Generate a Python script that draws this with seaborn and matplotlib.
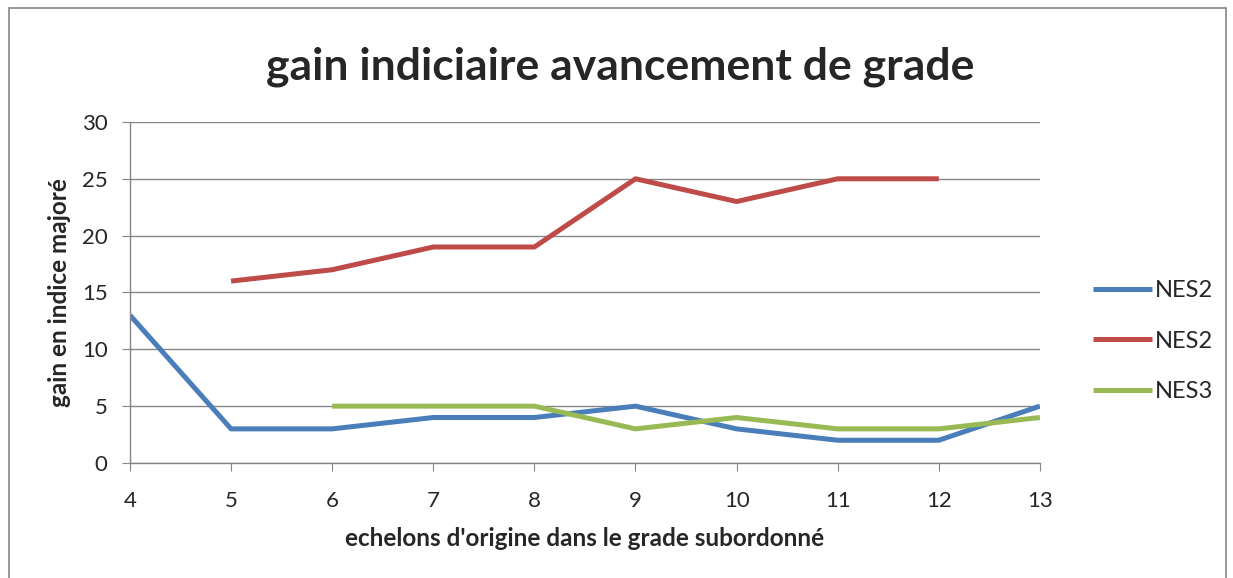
import numpy as np
import pandas as pd
import matplotlib
matplotlib.use("Agg")
import matplotlib.pyplot as plt
import seaborn as sns
from matplotlib.patches import Rectangle

# data
echelons = [4, 5, 6, 7, 8, 9, 10, 11, 12, 13]
nes2_a = [13, 3, 3, 4, 4, 5, 3, 2, 2, 5]
nes2_b = [np.nan, 16, 17, 19, 19, 25, 23, 25, 25, np.nan]
nes3 = [np.nan, np.nan, 5, 5, 5, 3, 4, 3, 3, 4]
labels = ["NES2", "NES2", "NES3"]
colors = ["#4A7EBB", "#BE4B48", "#98B954"]

sns.set_style("white")
plt.rcParams["font.family"] = ["Lato", "DejaVu Sans"]

fig = plt.figure(figsize=(12.33, 5.78), dpi=100)
ax = fig.add_axes([0.1054, 0.199, 0.738, 0.590])

for vals, lab, col in zip([nes2_a, nes2_b, nes3], labels, colors):
    df = pd.DataFrame({"x": echelons, "y": vals})
    sns.lineplot(data=df, x="x", y="y", ax=ax, color=col, linewidth=3.6,
                 label=lab, solid_capstyle="butt")

ax.set_xlim(4, 13)
ax.set_ylim(0, 30)
ax.set_xticks(echelons)
ax.set_yticks(range(0, 31, 5))
ax.grid(axis="y", color="#868686", linewidth=1.0)
ax.set_axisbelow(True)
for s in ["top", "right"]:
    ax.spines[s].set_visible(False)
for s in ["left", "bottom"]:
    ax.spines[s].set_color("#868686")
    ax.spines[s].set_linewidth(1.0)
ax.tick_params(axis="both", which="both", direction="out", length=6,
               color="#868686", labelsize=16)
ax.tick_params(axis="x", bottom=True, pad=14)
ax.tick_params(axis="y", left=True, pad=10)

ax.set_xlabel("echelons d'origine dans le grade subordonné", fontsize=17.5,
              fontweight="bold", labelpad=12)
ax.set_ylabel("gain en indice majoré", fontsize=17.5, fontweight="bold",
              labelpad=8)
fig.text(0.503, 0.885, "gain indiciaire avancement de grade", ha="center",
         va="center", fontsize=32, fontweight="bold")

ax.legend(loc="center left", bbox_to_anchor=(0.869, 0.41),
          bbox_transform=fig.transFigure, frameon=False, fontsize=17,
          handlelength=2.5, labelspacing=1.25, handletextpad=0.15)

fig.patches.append(Rectangle((0.007, -0.01), 0.987, 0.996,
                             transform=fig.transFigure, fill=False,
                             edgecolor="#868686", linewidth=1.2))

fig.savefig("out.png", dpi=100)
